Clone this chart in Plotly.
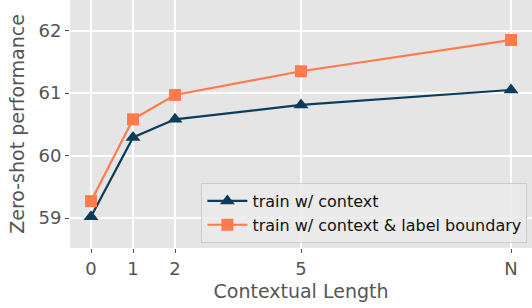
import plotly.graph_objects as go

x_pos = [0, 1, 2, 5, 10]
x_labels = ["0", "1", "2", "5", "N"]
ctx = [59.02, 60.29, 60.58, 60.81, 61.05]
ctx_label = [59.27, 60.58, 60.97, 61.35, 61.85]
y_ticks = [59, 60, 61, 62]

fig = go.Figure()
fig.add_trace(go.Scatter(
    x=x_pos, y=ctx, mode="lines+markers", name="train w/ context",
    line=dict(color="#0b3d5b", width=2.2),
    marker=dict(symbol="triangle-up", size=13, color="#0b3d5b"),
))
fig.add_trace(go.Scatter(
    x=x_pos, y=ctx_label, mode="lines+markers", name="train w/ context & label boundary",
    line=dict(color="#ff7b4c", width=2.2),
    marker=dict(symbol="square", size=12, color="#ff7b4c"),
))

fig.update_layout(
    width=532, height=308,
    margin=dict(l=70, r=0, t=0, b=60, autoexpand=False),
    paper_bgcolor="white", plot_bgcolor="#e5e5e5",
    font=dict(family="DejaVu Sans", color="#555555"),
    xaxis=dict(
        range=[-0.5, 10.5], tickvals=x_pos, ticktext=x_labels,
        showgrid=True, gridcolor="white", gridwidth=1.5, zeroline=False,
        ticks="outside", ticklen=4, tickcolor="#555555", automargin=False,
        tickfont=dict(size=18, color="#555555"),
        title=dict(text="Contextual Length", font=dict(size=19, color="#555555"), standoff=7),
    ),
    yaxis=dict(
        range=[58.52, 62.49], tickvals=y_ticks,
        showgrid=True, gridcolor="white", gridwidth=1.5, zeroline=False,
        ticks="outside", ticklen=4, tickcolor="#555555", automargin=False,
        tickfont=dict(size=18, color="#555555"),
        title=dict(text="Zero-shot performance", font=dict(size=19, color="#555555"), standoff=8),
    ),
    legend=dict(
        x=0.99, y=0.02, xanchor="right", yanchor="bottom",
        bgcolor="rgba(235,235,235,0.85)", bordercolor="#cccccc", borderwidth=1,
        font=dict(size=16, color="#111111"), tracegroupgap=0, itemwidth=40,
    ),
)

fig.write_html(
    "out.html",
    config={"displayModeBar": False},
    post_script="document.body.style.margin='0';document.body.style.overflow='hidden';",
)
